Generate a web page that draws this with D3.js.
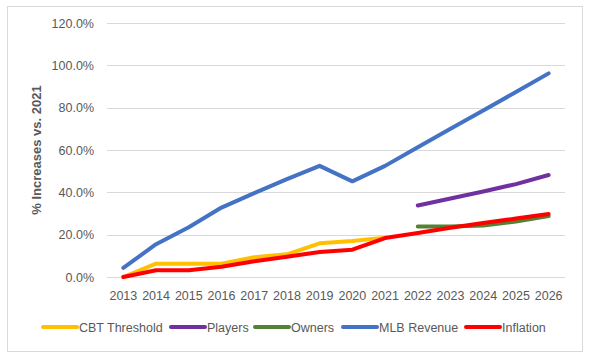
<!DOCTYPE html>
<html><head><meta charset="utf-8">
<script src="https://cdn.jsdelivr.net/npm/d3@7"></script>
<style>body{margin:0;background:#fff}svg{display:block}</style>
</head><body>
<svg id="c" width="590" height="357"></svg>
<script>
const years = ["2013","2014","2015","2016","2017","2018","2019","2020","2021","2022","2023","2024","2025","2026"];
const cbtThreshold = [0, 6.3, 6.3, 6.3, 9.3, 10.7, 15.9, 17.0, 18.6, null, null, null, null, null];
const players = [null, null, null, null, null, null, null, null, null, 33.8, 37.1, 40.4, 43.9, 48.2];
const owners = [null, null, null, null, null, null, null, null, null, 23.9, 23.9, 24.3, 26.2, 28.8];
const mlbRevenue = [4.3, 15.5, 23.5, 32.8, 39.6, 46.2, 52.5, 45.2, 52.5, 61.3, 70.0, 78.7, 87.4, 96.2];
const inflation = [0, 3.2, 3.2, 4.8, 7.4, 9.6, 11.8, 12.9, 18.4, 20.8, 23.3, 25.5, 27.6, 29.8];
const yTicks = [0, 20, 40, 60, 80, 100, 120];
const seriesNames = ["CBT Threshold", "Players", "Owners", "MLB Revenue", "Inflation"];
const seriesColors = ["#FFC000", "#7030A0", "#548235", "#4472C4", "#FF0000"];
const seriesData = [cbtThreshold, players, owners, mlbRevenue, inflation];

const svg = d3.select("#c");
const font = "'Liberation Sans', Arial, sans-serif";
const txt = "#595959";

svg.append("rect").attr("x", 7.5).attr("y", 6.5).attr("width", 575).attr("height", 345)
  .attr("fill", "#fff").attr("stroke", "#D9D9D9").attr("stroke-width", 1);

const x = d3.scaleBand().domain(years).range([107, 565]);
const y = d3.scaleLinear().domain([0, 120]).range([277, 23]);

const grid = svg.append("g");
grid.selectAll("line").data(yTicks).join("line")
  .attr("x1", 107).attr("x2", 565)
  .attr("y1", d => Math.round(y(d)) + 0.5).attr("y2", d => Math.round(y(d)) + 0.5)
  .attr("stroke", "#D9D9D9").attr("stroke-width", 1);

const yAxis = svg.append("g").attr("transform", "translate(107,0)")
  .call(d3.axisLeft(y).tickValues(yTicks).tickSize(0).tickPadding(13).tickFormat(d => d.toFixed(1) + "%"));
yAxis.select(".domain").remove();
yAxis.selectAll("text").attr("font-family", font).attr("font-size", 12.5).attr("fill", txt);

const xAxis = svg.append("g").attr("transform", "translate(0,277)")
  .call(d3.axisBottom(x).tickSize(0).tickPadding(14));
xAxis.select(".domain").remove();
xAxis.selectAll("text").attr("font-family", font).attr("font-size", 12.5).attr("fill", txt);

svg.append("text").attr("transform", "translate(41,150) rotate(-90)")
  .attr("text-anchor", "middle").attr("font-family", font).attr("font-size", 13)
  .attr("font-weight", "bold").attr("fill", txt).text("% Increases vs. 2021");

const line = d3.line()
  .defined(d => d != null)
  .x((d, i) => x(years[i]) + x.bandwidth() / 2)
  .y(d => y(d));

seriesData.forEach((s, k) => {
  svg.append("path").attr("d", line(s)).attr("fill", "none")
    .attr("stroke", seriesColors[k]).attr("stroke-width", 4)
    .attr("stroke-linejoin", "round").attr("stroke-linecap", "round");
});

const legendX = [43, 171, 255, 343, 466];
const leg = svg.append("g");
seriesNames.forEach((n, k) => {
  leg.append("line").attr("x1", legendX[k]).attr("x2", legendX[k] + 34)
    .attr("y1", 327).attr("y2", 327).attr("stroke", seriesColors[k]).attr("stroke-width", 4)
    .attr("stroke-linecap", "round");
  leg.append("text").attr("x", legendX[k] + 36).attr("y", 331.5)
    .attr("font-family", font).attr("font-size", 12.5).attr("fill", txt).text(n);
});
</script>
</body></html>
